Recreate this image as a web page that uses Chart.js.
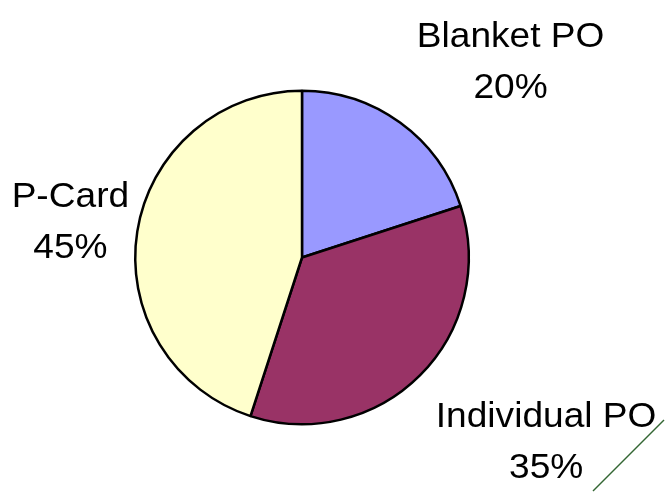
<!DOCTYPE html>
<html>
<head>
<meta charset="utf-8">
<script src="https://cdn.jsdelivr.net/npm/chart.js@4/dist/chart.umd.min.js"></script>
<style>
  html, body { margin: 0; padding: 0; background: #fff; }
  #wrap { width: 665px; height: 492px; position: relative; }
</style>
</head>
<body>
<div id="wrap"><canvas id="c" width="665" height="492"></canvas></div>
<script>
const categories = ["Blanket PO", "Individual PO", "P-Card"];
const shares = [20, 35, 45];
const sliceColors = ["#9999FF", "#993366", "#FFFFCC"];
// label anchor (first-line baseline) relative to pie centre, in units of the radius
const labelOffsets = [[1.251, -1.263], [1.464, 1.015], [-1.389, -0.302]];

const labelPlugin = {
  id: 'pieLabels',
  afterDatasetsDraw(chart) {
    const ctx = chart.ctx;
    const meta = chart.getDatasetMeta(0);
    const sx = 1.06;
    meta.data.forEach((arc, i) => {
      const r = arc.outerRadius;
      const x = arc.x + labelOffsets[i][0] * r;
      const y = arc.y + labelOffsets[i][1] * r;
      ctx.save();
      ctx.translate(x, y);
      ctx.scale(sx, 1);
      ctx.fillStyle = '#000';
      ctx.font = '35px "Liberation Sans", Arial, sans-serif';
      ctx.textAlign = 'center';
      ctx.textBaseline = 'alphabetic';
      ctx.fillText(categories[i], 0, 0);
      ctx.fillText(shares[i] + '%', 0, 51);
      ctx.restore();
    });
  }
};

const decoPlugin = {
  id: 'deco',
  afterDraw(chart) {
    const ctx = chart.ctx;
    ctx.save();
    ctx.strokeStyle = '#336633';
    ctx.lineWidth = 1.5;
    ctx.beginPath();
    ctx.moveTo(593, 491);
    ctx.lineTo(664, 420);
    ctx.stroke();
    ctx.restore();
  }
};

new Chart(document.getElementById('c'), {
  type: 'pie',
  data: {
    labels: categories,
    datasets: [{
      data: shares,
      backgroundColor: sliceColors,
      borderColor: '#000',
      borderWidth: 2.5
    }]
  },
  options: {
    responsive: false,
    animation: false,
    layout: { padding: { left: 134, right: 195, top: 89.5, bottom: 66.5 } },
    plugins: { legend: { display: false }, tooltip: { enabled: false } }
  },
  plugins: [labelPlugin, decoPlugin]
});
</script>
</body>
</html>
